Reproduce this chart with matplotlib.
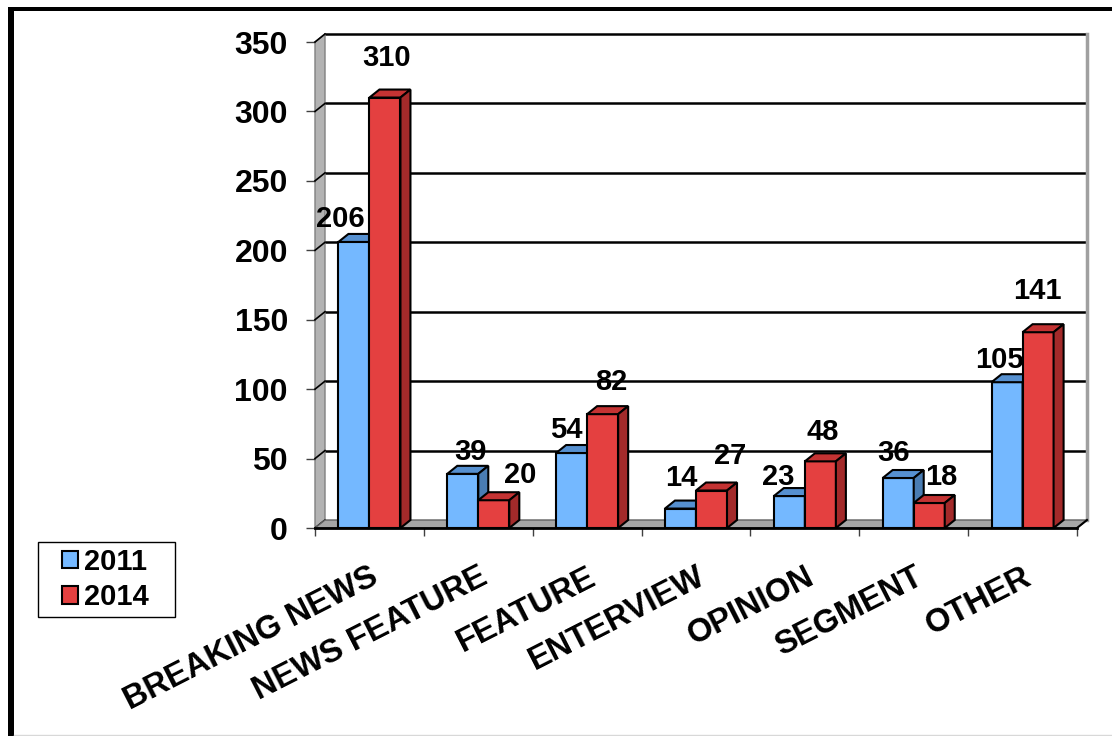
import matplotlib
matplotlib.use("Agg")
import matplotlib.pyplot as plt
from matplotlib.patches import Polygon, Rectangle, Patch
from matplotlib.lines import Line2D

plt.rcParams["font.family"] = ["Liberation Sans", "DejaVu Sans"]
plt.rcParams["font.weight"] = "bold"

categories = ["BREAKING NEWS", "NEWS FEATURE", "FEATURE", "ENTERVIEW",
              "OPINION", "SEGMENT", "OTHER"]
series_names = ["2011", "2014"]
values_2011 = [206, 39, 54, 14, 23, 36, 105]
values_2014 = [310, 20, 82, 27, 48, 18, 141]
y_ticks = [0, 50, 100, 150, 200, 250, 300, 350]

# label offsets from the bar top centre, in pixels (x right, y up)
offsets_2011 = [(-14, 23), (8, 22), (-5, 23), (1, 31), (-11, 19), (-5, 25), (-8, 22)]
offsets_2014 = [(2, 40), (26, 25), (9, 32), (19, 35), (2, 29), (12, 26), (-1, 41)]

front = {"2011": "#74B8FF", "2014": "#E44040"}
top = {"2011": "#5690D0", "2014": "#C43333"}
side = {"2011": "#4A7DB3", "2014": "#A32A2A"}

W, H, DPI = 11.12, 7.36, 100
fig = plt.figure(figsize=(W, H), dpi=DPI)
fig.patch.set_facecolor("white")

ax_left, ax_right, ax_top, ax_bottom = 315, 1077, 42, 528
ax = fig.add_axes([ax_left / 1112, 1 - ax_bottom / 736,
                   (ax_right - ax_left) / 1112, (ax_bottom - ax_top) / 736])
n = len(categories)
ymax = 350
ax.set_xlim(0, n)
ax.set_ylim(0, ymax)
ax.set_facecolor("none")
for s in ax.spines.values():
    s.set_visible(False)

# depth of the 3d effect, pixels -> data units
px_x = (ax_right - ax_left) / n
px_y = (ax_bottom - ax_top) / ymax
DX = 10 / px_x
DY = 8 / px_y

# back wall gridlines
for v in y_ticks[1:]:
    ax.add_line(Line2D([DX, n + DX], [v + DY, v + DY], color="black", lw=1.8,
                       zorder=1, clip_on=False))
# right edge of the back wall
ax.add_line(Line2D([n + DX, n + DX], [DY, ymax + DY], color="#A0A0A0", lw=2.5,
                   zorder=1, clip_on=False))

# left wall
ax.add_patch(Polygon([(0, 0), (0, ymax), (DX, ymax + DY), (DX, DY)], closed=True,
                     facecolor="#B3B3B3", edgecolor="#808080", lw=1, zorder=1.5,
                     clip_on=False))
for v in y_ticks:
    ax.add_line(Line2D([0, DX], [v, v + DY], color="black", lw=1.2, zorder=1.6,
                       clip_on=False))

# floor
ax.add_patch(Polygon([(0, 0), (n, 0), (n + DX, DY), (DX, DY)], closed=True,
                     facecolor="#A6A6A6", edgecolor="#606060", lw=1, zorder=1.7,
                     clip_on=False))
ax.add_line(Line2D([0, n], [0, 0], color="black", lw=2, zorder=1.8, clip_on=False))
ax.add_line(Line2D([n, n + DX], [0, DY], color="black", lw=1.5, zorder=1.8, clip_on=False))

bw = 0.285
z = 3.0
for i in range(n):
    c = i + 0.5
    for name, vals, offs, x0 in (("2011", values_2011, offsets_2011, c - bw),
                                 ("2014", values_2014, offsets_2014, c)):
        h = vals[i]
        ax.bar(x0, h, width=bw, align="edge", color=front[name],
               edgecolor="black", lw=1.5, zorder=z, clip_on=False)
        ax.add_patch(Polygon([(x0, h), (x0 + bw, h), (x0 + bw + DX, h + DY), (x0 + DX, h + DY)],
                             closed=True, facecolor=top[name], edgecolor="black",
                             lw=1.5, zorder=z + 0.001, clip_on=False))
        ax.add_patch(Polygon([(x0 + bw, 0), (x0 + bw + DX, DY), (x0 + bw + DX, h + DY), (x0 + bw, h)],
                             closed=True, facecolor=side[name], edgecolor="black",
                             lw=1.5, zorder=z + 0.002, clip_on=False))
        z += 0.01
        dx, dy = offs[i]
        ax.annotate(str(h), (x0 + bw / 2, h), xytext=(dx * 0.72, dy * 0.72),
                    textcoords="offset points", ha="center", va="center",
                    fontsize=21, fontweight="bold", zorder=10, annotation_clip=False)

# axes ticks
ax.set_yticks(y_ticks)
ax.set_yticklabels([str(t) for t in y_ticks])
ax.tick_params(axis="y", length=6.5, width=1, color="#404040", pad=13,
               labelsize=23)
for t in ax.get_yticklabels():
    t.set_fontweight("bold")

ax.set_xticks(range(n + 1))
ax.set_xticklabels([])
ax.tick_params(axis="x", which="major", length=6, width=1, color="#404040")
ax.set_xticks([i + 0.5 for i in range(n)], minor=True)
ax.set_xticklabels(categories, minor=True, rotation=27, ha="right",
                   rotation_mode="anchor", fontsize=23.5, fontweight="bold")
ax.tick_params(axis="x", which="minor", length=0, pad=24)

# legend (frame drawn separately to get Excel's padding)
handles = [Patch(facecolor=front[s], edgecolor="black", lw=1.5) for s in series_names]
leg = fig.legend(handles, series_names, loc="upper left",
                 bbox_to_anchor=(62 / 1112, 1 - 548 / 736), borderaxespad=0,
                 frameon=False, prop={"size": 21, "weight": "bold"},
                 handlelength=0.55, handleheight=0.55, handletextpad=0.2,
                 labelspacing=0.25, borderpad=0)
fig.add_artist(Rectangle((38 / 1112, 1 - 617 / 736), 137 / 1112, 75 / 736,
                         transform=fig.transFigure, facecolor="none",
                         edgecolor="black", lw=1))

# outer frame lines
fig.add_artist(Rectangle((8 / 1112, 0), 6 / 1112, 1 - 7 / 736, transform=fig.transFigure,
                         facecolor="black", edgecolor="none"))
fig.add_artist(Rectangle((8 / 1112, 1 - 11 / 736), 1 - 8 / 1112, 4 / 736,
                         transform=fig.transFigure, facecolor="black", edgecolor="none"))
fig.add_artist(Line2D([14 / 1112, 1], [1.5 / 736, 1.5 / 736], transform=fig.transFigure,
                      color="#D8D8D8", lw=1))

fig.savefig("out.png", dpi=DPI)
